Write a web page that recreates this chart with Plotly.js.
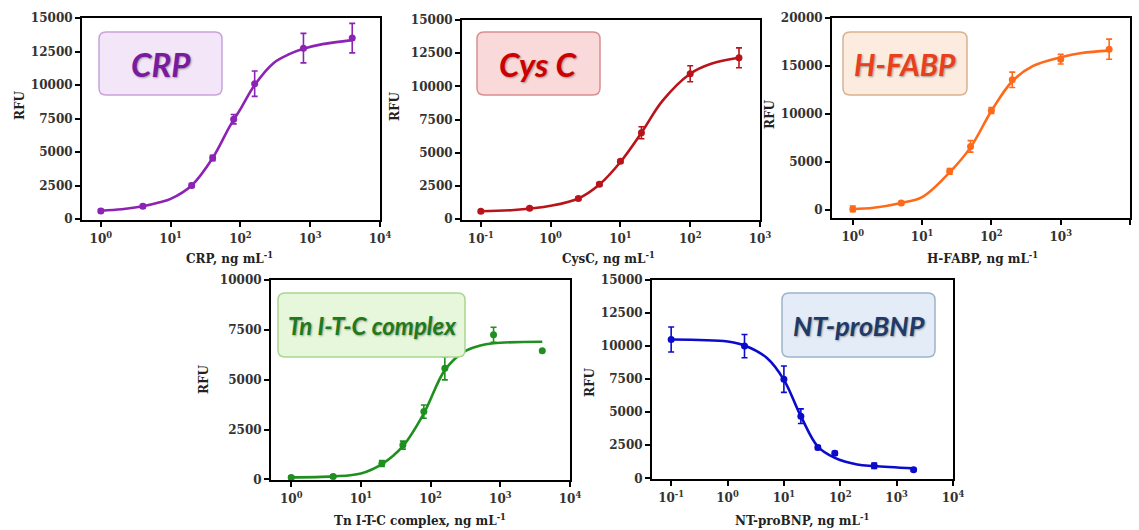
<!DOCTYPE html>
<html>
<head>
<meta charset="utf-8">
<script src="https://cdn.plot.ly/plotly-3.0.1.min.js"></script>
<style>html,body{margin:0;padding:0;background:#fff;}#chart{width:1139px;height:530px;}</style>
</head>
<body>
<div id="chart"></div>
<script>
// ---------- DATA ----------
// CRP
const crpX = [1, 4, 20, 40, 80, 160, 800, 4000];
const crpY = [600, 950, 2500, 4550, 7450, 10100, 12750, 13500];
const crpErr = [120, 120, 150, 200, 350, 950, 1100, 1100];
const crpFitX = [1, 2, 4, 7, 10, 20, 40, 70, 100, 160, 300, 500, 800, 1500, 4000];
const crpFitY = [620, 730, 950, 1250, 1500, 2500, 4550, 6900, 8200, 10000, 11650, 12300, 12700, 13050, 13350];
// Cys C
const cysX = [0.1, 0.5, 2.5, 5, 10, 20, 100, 500];
const cysY = [580, 820, 1550, 2620, 4350, 6500, 10950, 12150];
const cysErr = [100, 100, 120, 120, 120, 450, 600, 750];
const cysFitX = [0.1, 0.3, 1, 2.5, 5, 10, 20, 40, 100, 200, 500];
const cysFitY = [580, 680, 1000, 1550, 2600, 4300, 6500, 8900, 10950, 11700, 12150];
// H-FABP
const hfX = [1, 5, 25, 50, 100, 200, 1000, 5000];
const hfY = [80, 700, 4000, 6600, 10350, 13550, 15700, 16750];
const hfErr = [300, 150, 300, 600, 300, 800, 500, 1050];
const hfFitX = [1, 2, 5, 10, 25, 50, 100, 200, 400, 1000, 2000, 5000];
const hfFitY = [70, 200, 700, 1300, 3900, 6500, 10300, 13400, 15000, 15900, 16350, 16600];
// Tn I-T-C complex
const tnX = [1, 4, 20, 40, 80, 160, 800, 4000];
const tnY = [100, 150, 800, 1720, 3400, 5570, 7250, 6450];
const tnErr = [80, 80, 150, 200, 330, 580, 380, 0];
const tnFitX = [1, 4, 10, 20, 40, 80, 160, 300, 500, 800, 4000];
const tnFitY = [100, 150, 300, 770, 1670, 3310, 5480, 6400, 6700, 6830, 6900];
// NT-proBNP
const ntX = [0.1, 2, 10, 20, 40, 80, 400, 2000];
const ntY = [10500, 10000, 7500, 4700, 2330, 1900, 950, 650];
const ntErr = [950, 880, 1000, 550, 150, 150, 200, 100];
const ntFitX = [0.1, 1, 2, 5, 10, 20, 40, 80, 200, 400, 2000];
const ntFitY = [10500, 10350, 10050, 9100, 7450, 4700, 2400, 1550, 1050, 930, 750];

// tick labels
const logTickVals = [0.1, 1, 10, 100, 1000, 10000];
const logTickText = ['10<sup>-1</sup>', '10<sup>0</sup>', '10<sup>1</sup>', '10<sup>2</sup>', '10<sup>3</sup>', '10<sup>4</sup>'];
const yLabel = 'RFU';
const panelNames = ['CRP', 'Cys C', 'H-FABP', 'Tn I-T-C complex', 'NT-proBNP'];
const xTitles = ['CRP, ng mL<sup>-1</sup>', 'CysC, ng mL<sup>-1</sup>', 'H-FABP, ng mL<sup>-1</sup>',
                 'Tn I-T-C complex, ng mL<sup>-1</sup>', 'NT-proBNP, ng mL<sup>-1</sup>'];

// ---------- LAYOUT / STYLE ----------
const W = 1139, H = 530;
const px = v => v / W;
const py = v => 1 - v / H;

const panels = [
  {x: crpX, y: crpY, e: crpErr, fx: crpFitX, fy: crpFitY, dom: [82, 380, 18, 220], xr: [-0.27, 4], yr: [-75, 15000], dt: 2500,
   color: '#8c23b5', txt: '#7a1aa0', fill: '#f4e6f9', border: '#c9a3da', box: [99, 32, 222, 95], fs: 33,
   xt: [229, 258], yt: [20, 106]},
  {x: cysX, y: cysY, e: cysErr, fx: cysFitX, fy: cysFitY, dom: [462, 760, 20, 220], xr: [-1.27, 3], yr: [-75, 15000], dt: 2500,
   color: '#b8141a', txt: '#cc0000', fill: '#f9d9d9', border: '#d98f8f', box: [477, 32, 600, 95], fs: 33,
   xt: [608, 258], yt: [395, 107]},
  {x: hfX, y: hfY, e: hfErr, fx: hfFitX, fy: hfFitY, dom: [832, 1130, 18, 218], xr: [-0.30, 4], yr: [-870, 20000], dt: 5000,
   color: '#ff6a1a', txt: '#e8401c', fill: '#fcebdf', border: '#d8b290', box: [843, 32, 967, 95], fs: 30,
   xt: [982, 258], yt: [770, 115]},
  {x: tnX, y: tnY, e: tnErr, fx: tnFitX, fy: tnFitY, dom: [271, 570, 280, 480], xr: [-0.29, 4], yr: [-30, 10000], dt: 2500,
   color: '#1f901f', txt: '#1d7a1d', fill: '#e7f7dc', border: '#a9d78f', box: [278, 293, 465, 357], fs: 24,
   xt: [420, 520], yt: [204, 380]},
  {x: ntX, y: ntY, e: ntErr, fx: ntFitX, fy: ntFitY, dom: [652, 953, 280, 479], xr: [-1.34, 4], yr: [-50, 15000], dt: 2500,
   color: '#0b0bcc', txt: '#1f3a68', fill: '#e3ecf7', border: '#9fb3cb', box: [782, 293, 935, 357], fs: 27,
   xt: [802, 520], yt: [590, 383]}
];

function roundRect(x0, y0, x1, y1, r) {
  const X = v => px(v).toFixed(5), Y = v => py(v).toFixed(5);
  return 'M' + X(x0 + r) + ',' + Y(y0) +
    ' L' + X(x1 - r) + ',' + Y(y0) + ' Q' + X(x1) + ',' + Y(y0) + ' ' + X(x1) + ',' + Y(y0 + r) +
    ' L' + X(x1) + ',' + Y(y1 - r) + ' Q' + X(x1) + ',' + Y(y1) + ' ' + X(x1 - r) + ',' + Y(y1) +
    ' L' + X(x0 + r) + ',' + Y(y1) + ' Q' + X(x0) + ',' + Y(y1) + ' ' + X(x0) + ',' + Y(y1 - r) +
    ' L' + X(x0) + ',' + Y(y0 + r) + ' Q' + X(x0) + ',' + Y(y0) + ' ' + X(x0 + r) + ',' + Y(y0) + ' Z';
}

const traces = [];
const layout = {
  width: W, height: H,
  margin: {l: 0, r: 0, t: 0, b: 0},
  paper_bgcolor: '#ffffff',
  plot_bgcolor: 'rgba(0,0,0,0)',
  showlegend: false,
  shapes: [],
  annotations: []
};

const tickFont = {family: 'DejaVu Serif', size: 12, color: '#333333', weight: 'bold'};
const titleFont = {family: 'DejaVu Serif', size: 12, color: '#222222', weight: 'bold'};

panels.forEach((p, i) => {
  const n = i + 1;
  const xa = 'x' + (n === 1 ? '' : n), ya = 'y' + (n === 1 ? '' : n);
  const xk = 'xaxis' + (n === 1 ? '' : n), yk = 'yaxis' + (n === 1 ? '' : n);

  traces.push({
    type: 'scatter', mode: 'lines', x: p.fx, y: p.fy, xaxis: xa, yaxis: ya,
    line: {color: p.color, width: 2.6, shape: 'spline', smoothing: 1}, hoverinfo: 'skip'
  });
  traces.push({
    type: 'scatter', mode: 'markers', x: p.x, y: p.y, xaxis: xa, yaxis: ya,
    marker: {color: p.color, size: 7, symbol: 'circle'},
    error_y: {type: 'data', array: p.e, visible: true, color: p.color, thickness: 1.6, width: 3}
  });

  layout[xk] = {
    type: 'log', range: p.xr, domain: [px(p.dom[0]), px(p.dom[1])], anchor: ya,
    tickvals: logTickVals, ticktext: logTickText,
    showline: true, linecolor: '#000', linewidth: 2, mirror: true,
    ticks: 'outside', ticklen: 5, tickwidth: 2, tickcolor: '#000',
    showgrid: false, zeroline: false, tickfont: tickFont, ticklabelstandoff: 2
  };
  layout[yk] = {
    range: p.yr, domain: [py(p.dom[3]), py(p.dom[2])], anchor: xa,
    tick0: 0, dtick: p.dt, tickformat: 'd',
    showline: true, linecolor: '#000', linewidth: 2, mirror: true,
    ticks: 'outside', ticklen: 5, tickwidth: 2, tickcolor: '#000',
    showgrid: false, zeroline: false, tickfont: tickFont
  };

  // label box
  layout.shapes.push({
    type: 'path', xref: 'paper', yref: 'paper', layer: 'above',
    path: roundRect(p.box[0], p.box[1], p.box[2], p.box[3], 7),
    fillcolor: p.fill, line: {color: p.border, width: 1.5}
  });
  layout.annotations.push({
    xref: 'paper', yref: 'paper', x: px((p.box[0] + p.box[2]) / 2), y: py((p.box[1] + p.box[3]) / 2),
    xanchor: 'center', yanchor: 'middle', showarrow: false, text: panelNames[i],
    font: {family: 'Lato', size: p.fs, color: p.txt, weight: 'bold', style: 'italic', shadow: '1px 1px 2px rgba(0,0,0,0.35)'}
  });
  // axis titles
  layout.annotations.push({
    xref: 'paper', yref: 'paper', x: px(p.xt[0]), y: py(p.xt[1]), xanchor: 'center', yanchor: 'middle',
    showarrow: false, text: xTitles[i], font: titleFont
  });
  layout.annotations.push({
    xref: 'paper', yref: 'paper', x: px(p.yt[0]), y: py(p.yt[1]), xanchor: 'center', yanchor: 'middle',
    showarrow: false, text: yLabel, textangle: -90, font: titleFont
  });
});

Plotly.newPlot('chart', traces, layout, {staticPlot: true, displayModeBar: false});
</script>
</body>
</html>
